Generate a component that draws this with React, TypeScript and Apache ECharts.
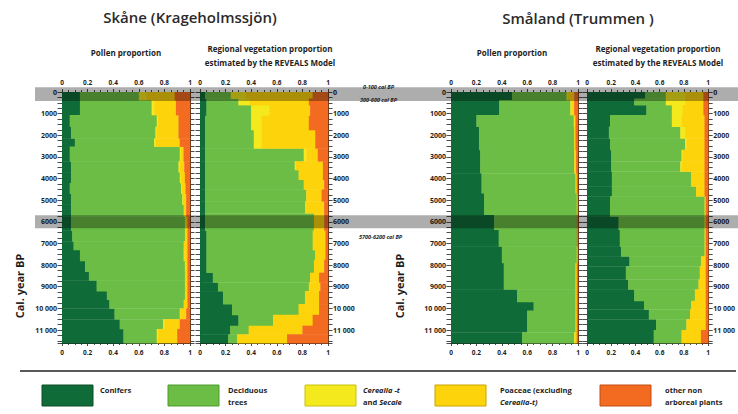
import React, { useEffect, useRef } from "react";
import * as echarts from "echarts";

const TAXA = ["Conifers", "Deciduous trees", "Cerealia-t and Secale", "Poaceae (excluding Cerealia-t)", "other non arboreal plants"];
const TAXA_COLORS = ["#0f6b38", "#6bbd45", "#f3e91c", "#fdd30b", "#f26b21"];
const TAXA_BORDERS = ["#0a4f29", "#4e9a33", "#c9c010", "#c9a400", "#c24f14"];
const X_TICK_LABELS = ["0", "0.2", "0.4", "0.6", "0.8", "1"];
const MAX_YEAR = 11600;
const BAND_YEARS = [[-220, 420], [5700, 6300]];
const FONT = "'Open Sans', 'Noto Sans', sans-serif";

// Skåne (Krageholmssjön) – pollen proportion; interval tops in cal. yr BP
const skanePollenTop = [0, 370, 1060, 1600, 2140, 2520, 3200, 3700, 4200, 4700, 5200, 5750, 6400, 6900, 7300, 7800, 8300, 8700, 9200, 9600, 10000, 10500, 10950];
const skanePollenConifers = [0.14, 0.14, 0.06, 0.07, 0.10, 0.06, 0.07, 0.07, 0.06, 0.07, 0.07, 0.07, 0.08, 0.09, 0.14, 0.18, 0.21, 0.27, 0.35, 0.37, 0.41, 0.45, 0.48];
const skanePollenDeciduous = [0.46, 0.56, 0.68, 0.66, 0.62, 0.86, 0.84, 0.85, 0.87, 0.87, 0.88, 0.89, 0.88, 0.86, 0.81, 0.78, 0.75, 0.69, 0.61, 0.58, 0.51, 0.34, 0.26];
const skanePollenCerealia = [0.06, 0.02, 0.01, 0.01, 0.01, 0.01, 0.01, 0.01, 0.005, 0.005, 0, 0, 0, 0, 0.005, 0.005, 0, 0, 0, 0, 0.005, 0.01, 0.01];
const skanePollenPoaceae = [0.22, 0.17, 0.16, 0.17, 0.19, 0.02, 0.035, 0.03, 0.03, 0.025, 0.02, 0.02, 0.02, 0.03, 0.025, 0.015, 0.02, 0.02, 0.02, 0.03, 0.045, 0.12, 0.15];
const skanePollenOther = [0.12, 0.11, 0.09, 0.09, 0.08, 0.05, 0.045, 0.04, 0.035, 0.03, 0.03, 0.02, 0.02, 0.02, 0.02, 0.02, 0.02, 0.02, 0.02, 0.02, 0.03, 0.08, 0.10];

// Skåne – REVEALS regional vegetation proportion
const skaneRevealsTop = [0, 300, 600, 1100, 1750, 2600, 3200, 3600, 4050, 4500, 5050, 5600, 6400, 7300, 7750, 8350, 8800, 9200, 9800, 10300, 10800, 11200];
const skaneRevealsConifers = [0.04, 0.05, 0.05, 0.04, 0.04, 0.04, 0.04, 0.04, 0.04, 0.04, 0.04, 0.04, 0.05, 0.05, 0.05, 0.10, 0.14, 0.18, 0.25, 0.30, 0.235, 0.22];
const skaneRevealsDeciduous = [0.20, 0.25, 0.35, 0.36, 0.38, 0.77, 0.70, 0.73, 0.77, 0.79, 0.78, 0.85, 0.83, 0.85, 0.84, 0.76, 0.71, 0.64, 0.52, 0.27, 0.145, 0.07];
const skaneRevealsCerealia = [0.12, 0.09, 0.14, 0.08, 0.06, 0.02, 0.01, 0, 0, 0, 0, 0, 0, 0, 0, 0, 0, 0, 0, 0, 0, 0];
const skaneRevealsPoaceae = [0.52, 0.46, 0.32, 0.37, 0.42, 0.09, 0.21, 0.19, 0.16, 0.12, 0.15, 0.08, 0.10, 0.08, 0.08, 0.07, 0.09, 0.11, 0.16, 0.31, 0.42, 0.39];
const skaneRevealsOther = [0.12, 0.15, 0.14, 0.15, 0.10, 0.08, 0.04, 0.04, 0.03, 0.05, 0.03, 0.03, 0.02, 0.02, 0.03, 0.07, 0.06, 0.07, 0.07, 0.12, 0.20, 0.32];

// Småland (Trummen) – pollen proportion
const smalandPollenTop = [0, 370, 1060, 1600, 2670, 3750, 4670, 5670, 6360, 7130, 7900, 9120, 9700, 10100, 11100];
const smalandPollenConifers = [0.48, 0.38, 0.20, 0.22, 0.23, 0.24, 0.26, 0.34, 0.375, 0.40, 0.415, 0.52, 0.65, 0.60, 0.56];
const smalandPollenDeciduous = [0.43, 0.56, 0.766, 0.75, 0.74, 0.74, 0.73, 0.65, 0.615, 0.59, 0.565, 0.46, 0.33, 0.38, 0.41];
const smalandPollenCerealia = [0.01, 0.01, 0.004, 0, 0, 0, 0, 0, 0, 0, 0, 0, 0, 0, 0.005];
const smalandPollenPoaceae = [0.05, 0.02, 0.01, 0.01, 0.015, 0.01, 0.005, 0, 0, 0.005, 0.01, 0.01, 0.01, 0.01, 0.015];
const smalandPollenOther = [0.03, 0.03, 0.02, 0.02, 0.015, 0.01, 0.005, 0.01, 0.01, 0.005, 0.01, 0.01, 0.01, 0.01, 0.01];

// Småland – REVEALS regional vegetation proportion
const smalandRevealsTop = [0, 300, 600, 1060, 1600, 2140, 2670, 3210, 3670, 4360, 4820, 5750, 6360, 7130, 7590, 8050, 8660, 9120, 9650, 10050, 10500, 11000];
const smalandRevealsConifers = [0.48, 0.39, 0.49, 0.19, 0.18, 0.19, 0.20, 0.20, 0.205, 0.205, 0.19, 0.26, 0.27, 0.28, 0.35, 0.32, 0.34, 0.39, 0.47, 0.51, 0.57, 0.55];
const smalandRevealsDeciduous = [0.17, 0.26, 0.21, 0.51, 0.59, 0.62, 0.58, 0.57, 0.655, 0.695, 0.78, 0.71, 0.70, 0.69, 0.59, 0.61, 0.58, 0.50, 0.39, 0.34, 0.25, 0.23];
const smalandRevealsCerealia = [0.16, 0.16, 0.09, 0.08, 0.04, 0.01, 0.01, 0.01, 0, 0, 0, 0, 0, 0, 0, 0, 0, 0, 0, 0, 0, 0];
const smalandRevealsPoaceae = [0.15, 0.15, 0.17, 0.19, 0.16, 0.15, 0.18, 0.19, 0.11, 0.07, 0.01, 0.01, 0.01, 0.01, 0.04, 0.05, 0.06, 0.09, 0.12, 0.13, 0.16, 0.16];
const smalandRevealsOther = [0.04, 0.04, 0.04, 0.03, 0.03, 0.03, 0.03, 0.03, 0.03, 0.03, 0.02, 0.02, 0.02, 0.02, 0.02, 0.02, 0.02, 0.02, 0.02, 0.02, 0.02, 0.06];

const PANELS = [
  { tops: skanePollenTop, taxa: [skanePollenConifers, skanePollenDeciduous, skanePollenCerealia, skanePollenPoaceae, skanePollenOther], left: 62, width: 128, labelSide: "left" },
  { tops: skaneRevealsTop, taxa: [skaneRevealsConifers, skaneRevealsDeciduous, skaneRevealsCerealia, skaneRevealsPoaceae, skaneRevealsOther], left: 200, width: 128, labelSide: "right" },
  { tops: smalandPollenTop, taxa: [smalandPollenConifers, smalandPollenDeciduous, smalandPollenCerealia, smalandPollenPoaceae, smalandPollenOther], left: 451, width: 127, labelSide: "left" },
  { tops: smalandRevealsTop, taxa: [smalandRevealsConifers, smalandRevealsDeciduous, smalandRevealsCerealia, smalandRevealsPoaceae, smalandRevealsOther], left: 587, width: 127, labelSide: "right" },
];

const GRID_TOP = 92;
const GRID_HEIGHT = 251;
const AX = "#1e1e1e";

function yearLabel(v: number): string {
  if (v % 1000 !== 0) return "";
  if (v >= 10000) return Math.floor(v / 1000) + " " + "000";
  return String(v);
}

function buildSeries(p: any, g: number) {
  const n = p.tops.length;
  const cum: number[] = new Array(n).fill(0);
  return p.taxa.map((vals: number[], t: number) => {
    const data = vals.map((v, i) => {
      const start = cum[i];
      cum[i] = start + v;
      const yTop = p.tops[i];
      const yBottom = i + 1 < n ? p.tops[i + 1] : MAX_YEAR;
      return [start, start + v, yTop, yBottom];
    });
    return {
      type: "custom",
      name: TAXA[t],
      xAxisIndex: 2 * g + 1,
      yAxisIndex: 2 * g,
      encode: { x: [0, 1], y: [2, 3] },
      data,
      silent: true,
      z: 2,
      renderItem: (params: any, api: any) => {
        const x0 = api.value(0);
        const x1 = api.value(1);
        if (x1 - x0 <= 0.0001) return null;
        const a = api.coord([x0, api.value(2)]);
        const b = api.coord([x1, api.value(3)]);
        return {
          type: "rect",
          shape: { x: a[0], y: a[1], width: b[0] - a[0] + 0.4, height: b[1] - a[1] + 0.4 },
          style: { fill: TAXA_COLORS[t] },
        };
      },
    };
  });
}

function xAxisFor(g: number, pos: string) {
  return {
    gridIndex: g,
    type: "value",
    position: pos,
    min: 0,
    max: 1,
    interval: 0.2,
    axisLine: { show: true, onZero: false, lineStyle: { color: AX, width: 1 } },
    axisTick: { show: true, length: 3, lineStyle: { color: AX, width: 0.8 } },
    minorTick: { show: true, splitNumber: 4, length: 2, lineStyle: { color: AX, width: 0.8 } },
    splitLine: { show: false },
    axisLabel: {
      fontSize: 6.5,
      fontWeight: "bold",
      fontFamily: FONT,
      color: AX,
      margin: 6,
      formatter: (v: number) => X_TICK_LABELS[Math.round(v / 0.2)] ?? "",
    },
  };
}

function yAxisFor(g: number, pos: string, labels: boolean) {
  return {
    gridIndex: g,
    type: "value",
    position: pos,
    inverse: true,
    min: 0,
    max: MAX_YEAR,
    interval: 1000,
    axisLine: { show: true, onZero: false, lineStyle: { color: AX, width: 1 } },
    axisTick: { show: true, length: 4.5, lineStyle: { color: AX, width: 0.8 } },
    minorTick: { show: true, splitNumber: 4, length: 4.5, lineStyle: { color: AX, width: 0.8 } },
    splitLine: { show: false },
    axisLabel: {
      show: labels,
      fontSize: 7,
      fontWeight: "bold",
      fontFamily: FONT,
      color: AX,
      margin: 5,
      formatter: (v: number) => yearLabel(v),
    },
  };
}

export default function App() {
  const ref = useRef<HTMLDivElement>(null);

  useEffect(() => {
    if (!ref.current) return;
    const chart = echarts.init(ref.current, undefined, { renderer: "svg" });

    const grid = PANELS.map((p) => ({ left: p.left, top: GRID_TOP, width: p.width, height: GRID_HEIGHT }));
    const xAxis: any[] = [];
    const yAxis: any[] = [];
    PANELS.forEach((p, g) => {
      xAxis.push(xAxisFor(g, "top"));
      xAxis.push(xAxisFor(g, "bottom"));
      yAxis.push(yAxisFor(g, p.labelSide, true));
      yAxis.push(yAxisFor(g, p.labelSide === "left" ? "right" : "left", false));
    });
    const series: any[] = [];
    PANELS.forEach((p, g) => series.push(...buildSeries(p, g)));

    chart.setOption({
      animation: false,
      backgroundColor: "#ffffff",
      textStyle: { fontFamily: FONT },
      grid,
      xAxis,
      yAxis,
      series,
    });

    const yPix = (yr: number) => chart.convertToPixel({ yAxisIndex: 0 } as any, yr) as number;

    const bands = BAND_YEARS.map(([a, b], i) => ({
      type: "rect",
      z: 50,
      silent: true,
      shape: { x: 35, y: yPix(a), width: 703, height: yPix(b) - yPix(a) },
      style: { fill: "rgba(0,0,0,0.32)" },
    }));

    const txt = (x: number, y: number, text: string, size: number, opts: any = {}) => ({
      type: "text",
      z: 60,
      silent: true,
      x,
      y,
      rotation: opts.rotation || 0,
      style: {
        text,
        fontSize: size,
        fontFamily: FONT,
        fontWeight: opts.weight || "bold",
        fontStyle: opts.italic ? "italic" : "normal",
        fill: opts.color || "#1e1e1e",
        align: opts.align || "center",
        verticalAlign: "middle",
        lineHeight: opts.lineHeight || size * 1.6,
        rich: opts.rich,
      },
    });

    const italicRich = { i: { fontStyle: "italic", fontSize: 7.5, fontWeight: "bold", fontFamily: FONT, fill: "#1e1e1e" }, n: { fontSize: 7.5, fontWeight: "bold", fontFamily: FONT, fill: "#1e1e1e" } };

    const legendX = [42, 168, 305, 435, 600];
    const legendTextX = [100, 228, 363, 500, 665];
    const legendTexts = [
      "{n|Conifers}",
      "{n|Deciduous}\n{n|trees}",
      "{i|Cerealia -t}\n{n|and }{i|Secale}",
      "{n|Poaceae (excluding}\n{i|Cerealia-t)}",
      "{n|other non}\n{n|arboreal plants}",
    ];

    const legend: any[] = [
      { type: "line", z: 60, silent: true, shape: { x1: 20, y1: 371, x2: 736, y2: 371 }, style: { stroke: "#222", lineWidth: 1.5 } },
    ];
    TAXA.forEach((name, i) => {
      legend.push({
        type: "rect",
        z: 60,
        silent: true,
        shape: { x: legendX[i], y: 385, width: 51, height: 21 },
        style: { fill: TAXA_COLORS[i], stroke: TAXA_BORDERS[i], lineWidth: 1 },
      });
      legend.push({
        type: "text",
        z: 60,
        silent: true,
        x: legendTextX[i],
        y: i === 0 ? 390 : 396,
        style: {
          text: legendTexts[i],
          fontSize: 7.5,
          fontFamily: FONT,
          fontWeight: "bold",
          fill: "#1e1e1e",
          align: "left",
          verticalAlign: "middle",
          lineHeight: 12,
          rich: italicRich,
        },
      });
    });

    const texts: any[] = [
      txt(190, 17, "Skåne (Krageholmssjön)", 15, { weight: 600, color: "#2a2a2a" }),
      txt(578, 18, "Småland (Trummen )", 15, { weight: 600, color: "#2a2a2a" }),
      txt(126, 52, "Pollen proportion", 8),
      txt(270, 55, "Regional vegetation proportion\nestimated by the REVEALS Model", 8, { lineHeight: 14 }),
      txt(512, 52, "Pollen proportion", 8),
      txt(658, 55, "Regional vegetation proportion\nestimated by the REVEALS Model", 8, { lineHeight: 14 }),
      txt(19, 286, "Cal. year BP", 11, { rotation: Math.PI / 2 }),
      txt(399, 286, "Cal. year BP", 11, { rotation: Math.PI / 2 }),
      txt(363, 87, "0-100 cal BP", 5.5, { italic: true, align: "left" }),
      txt(360, 100, "300-600 cal BP", 5.5, { italic: true, align: "left" }),
      txt(359, 237, "5700-6200 cal BP", 5.5, { italic: true, align: "left" }),
    ];

    chart.setOption({ graphic: [...bands, ...texts, ...legend] });

    return () => chart.dispose();
  }, []);

  return <div ref={ref} style={{ position: "fixed", left: 0, top: 0, width: 738, height: 414 }} />;
}
